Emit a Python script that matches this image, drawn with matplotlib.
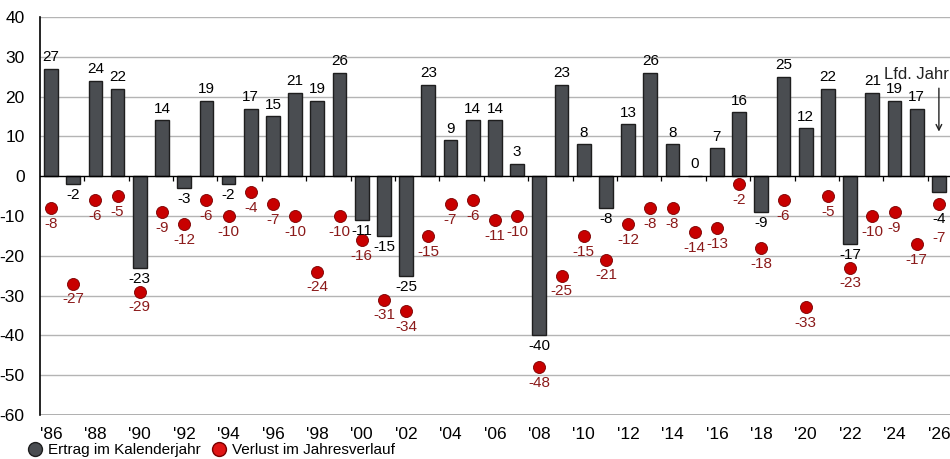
import numpy as np
import matplotlib
matplotlib.use("Agg")
import matplotlib.pyplot as plt
from matplotlib.lines import Line2D

plt.rcParams["font.family"] = ["Liberation Sans Narrow", "Liberation Sans", "DejaVu Sans"]

# Data
years = list(range(1986, 2027))
ertrag = [27, -2, 24, 22, -23, 14, -3, 19, -2, 17, 15, 21, 19, 26, -11, -15, -25,
          23, 9, 14, 14, 3, -40, 23, 8, -8, 13, 26, 8, 0, 7, 16, -9, 25, 12, 22,
          -17, 21, 19, 17, -4]
verlust = [-8, -27, -6, -5, -29, -9, -12, -6, -10, -4, -7, -10, -24, -10, -16, -31,
           -34, -15, -7, -6, -11, -10, -48, -25, -15, -21, -12, -8, -8, -14, -13, -2,
           -18, -6, -33, -5, -23, -10, -9, -17, -7]
tick_years = years[::2]
tick_labels = ["'" + str(y)[-2:] for y in tick_years]

bar_color = "#4a4d51"
dot_color = "#c80000"
label_red = "#8b1a1a"

fig = plt.figure(figsize=(9.5, 4.59), dpi=100)
ax = fig.add_axes([0.042, 0.096, 0.958, 0.867])

x = np.arange(len(years))

for yv in range(-50, 50, 10):
    if yv != 0:
        ax.axhline(yv, color="#b4b4b4", lw=1.0, zorder=0)
ax.axhline(-60, color="#a8a8a8", lw=2.0, zorder=0)

ax.bar(x, ertrag, width=0.62, color=bar_color, edgecolor="#1e1e1e", lw=1.0, zorder=3)
ax.axhline(0, color="black", lw=1.0, zorder=4)
ax.vlines(x[1::2] + 0.5, -1.3, 0, color="black", lw=0.9, zorder=4)

ax.scatter(x, verlust, s=75, color=dot_color, edgecolor="#7a0000", lw=0.6, zorder=5)

fs = 11
for xi, v, d in zip(x, ertrag, verlust):
    red_y = d - 2.2
    if v >= 0:
        ax.text(xi, v + 1.2, str(v), ha="center", va="bottom", fontsize=fs,
                color="black", zorder=6)
    elif v - d < 5:
        # bar label would hit the dot: put it below the dot
        ax.text(xi, d - 2.0, str(v), ha="center", va="top", fontsize=fs,
                color="black", zorder=6)
        red_y = d - 6.8
    else:
        ax.text(xi, v - 1.0, str(v), ha="center", va="top", fontsize=fs,
                color="black", zorder=6)
    ax.text(xi, red_y, str(d), ha="center", va="top", fontsize=fs,
            color=label_red, zorder=6)

# Lfd. Jahr annotation
ax.text(40.45, 25.5, "Lfd. Jahr", ha="right", va="center", fontsize=12,
        color="#222222", clip_on=False)
ax.annotate("", xy=(40, 10.5), xytext=(40, 22.8),
            arrowprops=dict(arrowstyle="->", color="#222222", lw=1.0))

ax.set_xlim(-0.5, 40.5)
ax.set_ylim(-60, 40)
ax.set_yticks(range(-60, 41, 10))
ax.set_yticklabels([str(v) for v in range(-60, 41, 10)], fontsize=12.5)
ax.set_xticks([years.index(y) for y in tick_years])
ax.set_xticklabels(tick_labels, fontsize=12.5)
ax.tick_params(axis="both", length=0)
ax.tick_params(axis="x", pad=9)
ax.tick_params(axis="y", pad=11)

for s in ["top", "right", "bottom"]:
    ax.spines[s].set_visible(False)
ax.spines["left"].set_color("black")
ax.spines["left"].set_linewidth(1.2)

handles = [
    Line2D([0], [0], marker="o", ls="", markersize=10, markerfacecolor=bar_color,
           markeredgecolor="#1e1e1e", label="Ertrag im Kalenderjahr"),
    Line2D([0], [0], marker="o", ls="", markersize=10, markerfacecolor="#e01515",
           markeredgecolor="#7a0000", label="Verlust im Jahresverlauf"),
]
fig.legend(handles=handles, loc="lower left", bbox_to_anchor=(0.018, -0.010), ncol=2,
           frameon=False, fontsize=11, handletextpad=0.15, columnspacing=0.4,
           handlelength=1.5, borderaxespad=0)

fig.savefig("out.png", dpi=100)
